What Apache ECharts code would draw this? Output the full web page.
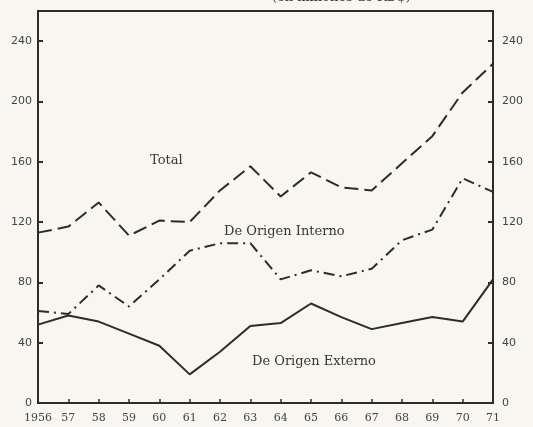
<!DOCTYPE html>
<html>
<head>
<meta charset="utf-8">
<script src="https://cdn.jsdelivr.net/npm/echarts@6/dist/echarts.min.js"></script>
<style>
html,body{margin:0;padding:0;background:#f7f6f1;}
#c{width:533px;height:427px;}
</style>
</head>
<body>
<div id="c"></div>
<script>
var years = [1956,1957,1958,1959,1960,1961,1962,1963,1964,1965,1966,1967,1968,1969,1970,1971];
var total = [113,117,133,111,121,120,141,157,137,153,143,141,159,177,206,225];
var interno = [61,59,78,64,82,101,106,106,82,88,84,89,108,115,149,140];
var externo = [52,58,54,46,38,19,34,51,53,66,57,49,53,57,54,82];
var yTicks = [0,40,80,120,160,200,240];
var labels = {
  total: 'Total',
  interno: 'De Origen Interno',
  externo: 'De Origen Externo',
  unit: '(en millones de RD$)'
};

function pairs(vals){ return years.map(function(y,i){ return [y, vals[i]]; }); }

var font = 'DejaVu Serif';
var ink = '#2f2c28';
var chart = echarts.init(document.getElementById('c'), null, {renderer:'canvas'});
var yAxisBase = {
  type:'value', min:0, max:260, interval:40,
  axisLine:{show:true, lineStyle:{color:ink, width:2}},
  axisTick:{show:true, inside:true, length:5, lineStyle:{color:ink, width:2}},
  splitLine:{show:false},
  axisLabel:{showMaxLabel:false, color:'#444', fontFamily:'DejaVu Sans', fontSize:11,
    formatter:function(v){ return yTicks.indexOf(v) >= 0 ? String(v) : ''; }}
};
chart.setOption({
  backgroundColor:'#f7f6f1',
  animation:false,
  grid:{left:38, right:40, top:11, bottom:24, show:true, borderColor:ink, borderWidth:2, backgroundColor:'transparent'},
  xAxis:{
    type:'value', min:1956, max:1971, interval:1,
    axisLine:{show:true, lineStyle:{color:ink, width:2}},
    axisTick:{show:true, inside:true, length:4, lineStyle:{color:ink, width:1.5}},
    splitLine:{show:false},
    axisLabel:{margin:10, color:'#444', fontFamily:font, fontSize:11,
      formatter:function(v){ return v===1956 ? '1956' : String(v).slice(2); }}
  },
  yAxis:[
    Object.assign({}, yAxisBase, {position:'left', axisLabel:Object.assign({}, yAxisBase.axisLabel, {margin:6})}),
    Object.assign({}, yAxisBase, {position:'right', axisLabel:Object.assign({}, yAxisBase.axisLabel, {margin:9})})
  ],
  series:[
    {type:'line', name:labels.total, data:pairs(total), symbol:'none', yAxisIndex:0,
      lineStyle:{color:ink, width:2, type:[14,6]}},
    {type:'line', name:labels.interno, data:pairs(interno), symbol:'none', yAxisIndex:0,
      lineStyle:{color:ink, width:2, type:[11,5,2,5]}},
    {type:'line', name:labels.externo, data:pairs(externo), symbol:'none', yAxisIndex:0,
      lineStyle:{color:ink, width:2}}
  ],
  graphic:[
    {type:'text', left:150, top:154, style:{text:labels.total, font:'13px "DejaVu Serif"', fill:'#3a3733'}},
    {type:'text', left:224, top:225, style:{text:labels.interno, font:'13px "DejaVu Serif"', fill:'#3a3733'}},
    {type:'text', left:252, top:355, style:{text:labels.externo, font:'13px "DejaVu Serif"', fill:'#3a3733'}},
    {type:'text', left:272, top:-9, style:{text:labels.unit, font:'13px "DejaVu Serif"', fill:'#3a3733'}}
  ]
});
</script>
</body>
</html>
